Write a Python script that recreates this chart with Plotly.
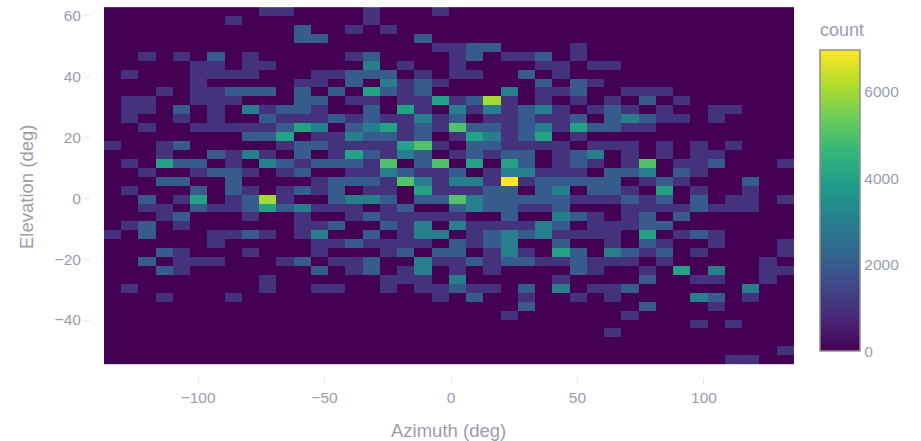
import plotly.graph_objects as go

# Heat map counts in thousands, top row first; each string is one row of 40 azimuth bins
count_rows = [
    "0000000001 1000010001 0000000000 0000000000",
    "0000000100 0000010000 0000000000 0000000000",
    "0000000000 0200101000 0000000000 0000000000",
    "0000000000 0220000020 0000000000 0000000000",
    "0000000000 0000000001 1220000100 0000000000",
    "0010102010 0000120000 1201120100 0000000000",
    "0000011011 0000030100 1000011011 0000000000",
    "0100011110 0011222010 1100201000 0000000000",
    "0000010000 0110203121 0000020210 0000000000",
    "0001011222 0202042120 0003011200 1110000000",
    "0110011100 0220110114 1261010101 0201000000",
    "0110201031 2210020410 3131231012 1010011000",
    "0100101002 1112121131 2011211202 3211010000",
    "0010011111 2430234121 5221231422 1100000000",
    "0000000022 4011322120 1431240100 0000000000",
    "1001200000 1221111451 0221111011 1010101000",
    "0001002131 0201421320 1212201230 1010110000",
    "0104220103 2122215025 0404201210 1501120001",
    "0010012210 1200113211 2013311102 2302100000",
    "0002200200 0012221531 3317122222 0121000200",
    "0100020210 1212011041 1122023022 1040100100",
    "0020140126 1002332022 5322222111 2120201101",
    "0011021124 2311101200 2322112000 1111211100",
    "0001200010 0100121111 1002003210 1202000000",
    "0120100000 0112002130 3111132011 1220000000",
    "1020001121 0130020133 0123231111 0401210000",
    "0000001000 0011211110 2123002001 0210010001",
    "0002100010 0010001202 2013104203 2120100001",
    "0020111000 1201120031 1212211211 1010000010",
    "0002100000 0020120130 1010000210 0104030011",
    "0000000001 0000001110 3000001000 0200110010",
    "0100000001 0011001011 2110203011 2000000300",
    "0001000100 0000000001 0200100101 0000320100",
    "0000000000 0000000000 0000200000 0200010000",
    "0000000000 0000000000 0001000000 1000000000",
    "0000000000 0000000000 0000000000 0000101000",
    "0000000000 0000000000 0000000001 0000000000",
    "0000000000 0000000000 0000000000 0000000000",
    "0000000000 0000000000 0000000000 0000000001",
    "0000000000 0000000000 0000000000 0000001100",
]
count_unit = 1000
colorbar_ticks = [0, 2000, 4000, 6000]
x_ticks = [-100, -50, 0, 50, 100]
y_ticks = [-40, -20, 0, 20, 40, 60]
x_title = "Azimuth (deg)"
y_title = "Elevation (deg)"
cbar_title = "count"

z = [[int(c) * count_unit for c in row.replace(" ", "")] for row in count_rows][::-1]

font_color = "#9a9eab"
tick_color = "#e6e8f0"
family = "Liberation Sans, Arial, sans-serif"
fig = go.Figure(go.Heatmap(
    z=z,
    x0=-133.8, dx=6.82,
    y0=-53.15, dy=2.934,
    zmin=0, zmax=6950,
    colorscale="Viridis",
    colorbar=dict(
        thickness=40, thicknessmode="pixels",
        len=301, lenmode="pixels",
        x=1.0375, xanchor="left", xpad=0,
        y=0.476, yanchor="middle", ypad=0,
        tickvals=colorbar_ticks,
        tickfont=dict(size=15.5, color=font_color, family=family),
        outlinecolor="#8f8f8f", outlinewidth=1.5,
        ticks="",
    ),
))
title_font = dict(size=18.5, color=font_color, family=family)
fig.update_layout(
    width=921, height=441,
    margin=dict(l=91, r=127, t=7, b=64),
    paper_bgcolor="white", plot_bgcolor="white",
    font=dict(family=family, color=font_color, size=15.5),
    xaxis=dict(range=[-142.34, 135.6], tickvals=x_ticks,
               showgrid=False, zeroline=False, ticks="outside", ticklen=6,
               tickcolor=tick_color, tickfont=dict(size=15.5, color=font_color, family=family)),
    yaxis=dict(range=[-58.7, 62.8], tickvals=y_ticks,
               showgrid=False, zeroline=False, ticks="outside", ticklen=6,
               tickcolor=tick_color, tickfont=dict(size=15.5, color=font_color, family=family)),
    annotations=[
        dict(text=x_title, xref="paper", yref="paper", x=0.5088, y=-0.1435,
             xanchor="center", yanchor="middle", showarrow=False, font=title_font),
        dict(text=y_title, xref="paper", yref="paper", x=-0.0925, y=0.5135,
             xanchor="center", yanchor="middle", textangle=-90, showarrow=False, font=title_font),
        dict(text=cbar_title, xref="paper", yref="paper", x=1.0345, y=0.9378,
             xanchor="left", yanchor="middle", showarrow=False,
             font=dict(size=18, color=font_color, family=family)),
    ],
)
fig.write_html("out.html", post_script="document.body.style.margin='0';",
               config=dict(displayModeBar=False))
